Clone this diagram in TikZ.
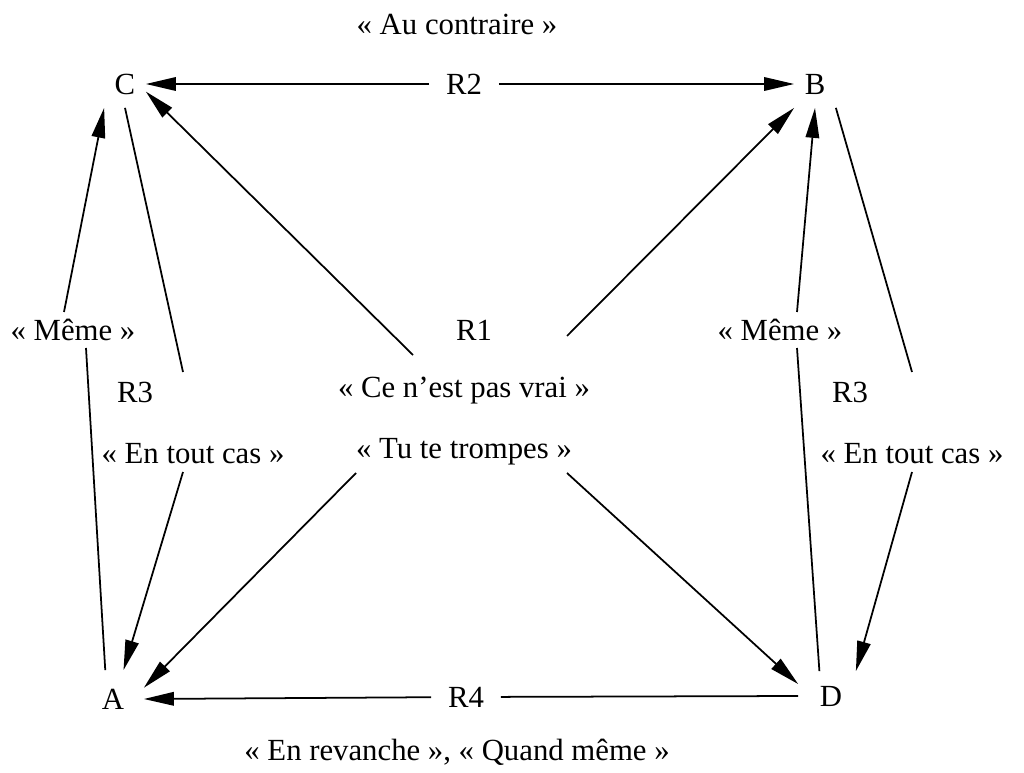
\documentclass[tikz,border=0pt]{standalone}
\usepackage{fontspec}
\setmainfont{Liberation Serif}
\usetikzlibrary{arrows.meta}

\begin{document}
\begin{tikzpicture}[
	x=0.02cm, y=-0.02cm,
	>={Triangle[length=0.6cm,width=0.27cm]},
	line width=1pt,
	every node/.style={font=\fontsize{17.5}{21}\selectfont},
	corner/.style={inner sep=0pt, minimum width=0.8cm, minimum height=0.92cm},
	rel/.style={inner ysep=0pt, inner xsep=0.32cm}
	]
	\useasboundingbox (0,0) rectangle (1024,773);

	% sommets
	\node[corner] (C) at (125,84) {C};
	\node[corner] (B) at (815,84) {B};
	\node[corner,minimum width=1.2cm,minimum height=1.12cm] (A) at (113,699) {A};
	\node[corner,minimum width=1.28cm,minimum height=0.96cm] (D) at (831,696) {D};

	% etiquettes
	\node (contraire) at (457,24) {« Au contraire »};
	\node[rel] (r2) at (464,84) {R2};
	\node[rel] (r4) at (466,697) {R4};
	\node (revanche) at (457,752) {« En revanche », « Quand même »};
	\node (r1) at (474,330) {R1};
	\node (vrai) at (464,391) {« Ce n’est pas vrai »};
	\node (trompes) at (464,452) {« Tu te trompes »};
	\node (memeL) at (73,330) {« Même »};
	\node (r3L) at (135,392) {R3};
	\node (toutL) at (193,454) {« En tout cas »};
	\node (memeR) at (780,330) {« Même »};
	\node (r3R) at (850,392) {R3};
	\node (toutR) at (912,454) {« En tout cas »};

	% points de coupure
	\coordinate (memeL-s) at (86,348);
	\coordinate (memeL-n) at (64,312);
	\coordinate (toutL-n) at (183,372);
	\coordinate (toutL-s) at (183,472);
	\coordinate (memeR-n) at (797,312);
	\coordinate (memeR-s) at (797,348);
	\coordinate (toutR-n) at (912,372);
	\coordinate (toutR-s) at (912,472);
	\coordinate (r1-nw) at (413,355);
	\coordinate (r1-ne) at (567,336);
	\coordinate (r1-sw) at (356,473);
	\coordinate (r1-se) at (567,473);

	\draw[->] (r2) -- (C.east);
	\draw[->] (r2) -- (B.west);
	\draw[->] (r4) -- (A.east);
	\draw (D.west) -- (r4);

	\draw (A.105) -- (memeL-s);
	\draw[->] (memeL-n) -- (C.south west);
	\draw (C.south) -- (toutL-n);
	\draw[->] (toutL-s) -- (A.70);

	\draw (D.115) -- (memeR-s);
	\draw[->] (memeR-n) -- (B.south);
	\draw (B.south east) -- (toutR-n);
	\draw[->] (toutR-s) -- (D.45);

	\draw[->] (r1-nw) -- (C.-20);
	\draw[->] (r1-ne) -- (B.south west);
	\draw[->] (r1-sw) -- (A.20);
	\draw[->] (r1-se) -- (D.160);
\end{tikzpicture}
\end{document}
